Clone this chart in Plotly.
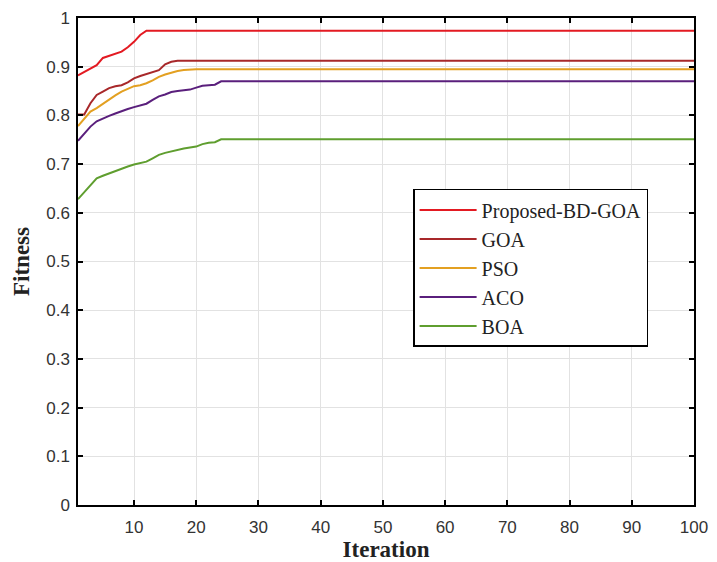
import plotly.graph_objects as go

iter_proposed = list(range(1, 13)) + [100]
proposed = [0.882, 0.889, 0.895, 0.903, 0.918, 0.922, 0.927, 0.931, 0.940, 0.951, 0.965, 0.974, 0.974]

iter_goa = list(range(1, 18)) + [100]
goa = [0.802, 0.802, 0.825, 0.842, 0.849, 0.856, 0.860, 0.862, 0.868, 0.876, 0.881, 0.885,
       0.889, 0.893, 0.905, 0.910, 0.912, 0.912]

iter_pso = list(range(1, 21)) + [100]
pso = [0.778, 0.792, 0.808, 0.815, 0.824, 0.833, 0.841, 0.849, 0.855, 0.860, 0.862, 0.866,
       0.872, 0.879, 0.884, 0.888, 0.891, 0.893, 0.894, 0.895, 0.895]

iter_aco = list(range(1, 25)) + [100]
aco = [0.748, 0.762, 0.777, 0.788, 0.794, 0.799, 0.804, 0.809, 0.813, 0.817, 0.821, 0.824,
       0.832, 0.839, 0.843, 0.848, 0.850, 0.852, 0.853, 0.857, 0.861, 0.862, 0.863, 0.870, 0.870]

iter_boa = list(range(1, 25)) + [100]
boa = [0.628, 0.643, 0.657, 0.671, 0.676, 0.681, 0.686, 0.691, 0.695, 0.699, 0.702, 0.705,
       0.712, 0.719, 0.723, 0.726, 0.730, 0.732, 0.734, 0.736, 0.741, 0.744, 0.745, 0.751, 0.751]

x_ticks = [10, 20, 30, 40, 50, 60, 70, 80, 90, 100]
y_ticks = [0, 0.1, 0.2, 0.3, 0.4, 0.5, 0.6, 0.7, 0.8, 0.9, 1]
y_tick_labels = ["0", "0.1", "0.2", "0.3", "0.4", "0.5", "0.6", "0.7", "0.8", "0.9", "1"]

series = [
    ("Proposed-BD-GOA", iter_proposed, proposed, "#e31a22"),
    ("GOA", iter_goa, goa, "#a8282a"),
    ("PSO", iter_pso, pso, "#e3a021"),
    ("ACO", iter_aco, aco, "#5a1f7c"),
    ("BOA", iter_boa, boa, "#5f9e2f"),
]

fig = go.Figure()
for name, xs, ys, col in series:
    fig.add_trace(go.Scatter(x=xs, y=ys, mode="lines", name=name,
                             line=dict(color=col, width=2)))

axis_common = dict(
    showline=True, linecolor="black", linewidth=1.5, mirror="ticks",
    ticks="inside", ticklen=5, tickcolor="black", tickwidth=1.5,
    showgrid=True, gridcolor="#e2e2e2", gridwidth=1, zeroline=False,
    automargin=False,
    tickfont=dict(family="Liberation Sans, Arial", size=17, color="#333"),
)

title_font = dict(family="Liberation Serif, Times New Roman", size=23, color="#222")

fig.update_xaxes(range=[1, 100], tickvals=x_ticks, **axis_common,
                 ticklabelstandoff=6,
                 title=dict(text="<b>Iteration</b>", font=title_font, standoff=7))
fig.update_yaxes(range=[0, 1], tickvals=y_ticks, ticktext=y_tick_labels, **axis_common,
                 ticklabelstandoff=3,
                 title=dict(text="<b>Fitness</b>", font=title_font, standoff=10))

fig.update_layout(
    width=709, height=554,
    margin=dict(l=70, r=23, t=10, b=57),
    plot_bgcolor="white", paper_bgcolor="white",
    legend=dict(x=0.544, y=0.649, xanchor="left", yanchor="top",
                bgcolor="white", bordercolor="black", borderwidth=1.5,
                font=dict(family="Liberation Serif, Times New Roman", size=20, color="#222"),
                itemwidth=57, tracegroupgap=0),
    showlegend=True,
)

fig.write_html("out.html")
